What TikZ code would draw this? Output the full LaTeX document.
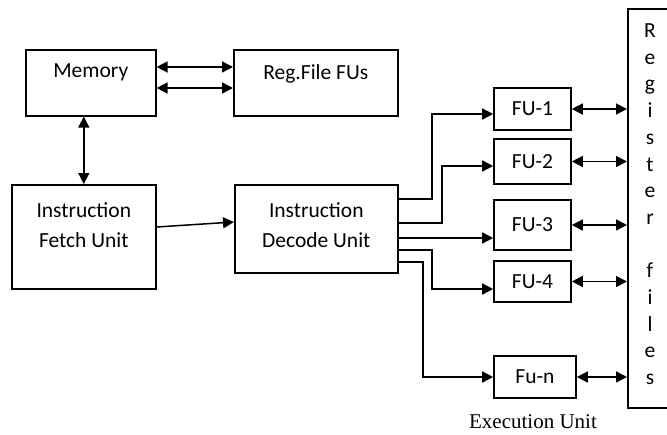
\documentclass[tikz,border=0pt]{standalone}
\usepackage{fontspec}
\setmainfont{Carlito}
\newfontfamily\timesfont{Liberation Serif}
\usetikzlibrary{arrows.meta}

\tikzset{
  blk/.style={draw, line width=1.6pt, rectangle, inner sep=0pt},
  intext/.style={anchor=north, align=center, inner sep=0pt, yshift=-#1},
  arr/.style={line width=1.5pt, -{Triangle[length=11pt,width=11pt]}},
  darr/.style={line width=1.5pt, {Triangle[length=11pt,width=11pt]}-{Triangle[length=11pt,width=11pt]}},
}

\begin{document}
\begin{tikzpicture}[x=1pt, y=-1pt, font=\fontsize{21.5}{30}\selectfont]
\clip (0,0) rectangle (667,434);
% upper row
\node[blk, anchor=north west, minimum width=130pt, minimum height=66pt,
  label={[intext=15pt]north:Memory}] (mem) at (25,49) {};
\node[blk, anchor=north west, minimum width=164pt, minimum height=66pt,
  label={[intext=15pt]north:Reg.File FUs}] (reg) at (233,49) {};
% fetch and decode
\node[blk, anchor=north west, minimum width=144pt, minimum height=104pt,
  label={[intext=18pt]north:Instruction\\Fetch Unit}] (ifu) at (11,184) {};
\node[blk, anchor=north west, minimum width=163pt, minimum height=88pt,
  label={[intext=18pt]north:Instruction\\Decode Unit}] (idu) at (234,184) {};
% functional units
\foreach \name/\xc/\yc/\w/\h/\txt in
{fu1/532.5/109/77/42/FU-1, fu2/532.5/161.5/77/45/FU-2, fu3/532.5/225/77/50/FU-3,
 fu4/532.5/281.5/77/41/FU-4, fun/535/377/82/42/Fu-n}
\node[blk, minimum width=\w pt, minimum height=\h pt] (\name) at (\xc,\yc) {\txt};
% register files
\node[blk, anchor=north west, minimum width=60pt, minimum height=399pt] (regf) at (627,8) {};
\foreach \ch/\k in {R/0,e/1,g/2,i/3,s/4,t/5,e/6,r/7,f/9,i/10,l/11,e/12,s/13}
\node[anchor=base, inner sep=0pt] (let\k) at (650,37.5+26.7*\k) {\ch};
\node[anchor=base, inner sep=0pt, font=\timesfont\fontsize{21}{25}\selectfont] (exu) at (533,428) {Execution Unit};

\draw[darr] (mem.east |- 0,67) -- (reg.west |- 0,67);
\draw[darr] (mem.east |- 0,88) -- (reg.west |- 0,88);
\draw[darr] (ifu.north |- mem.south) -- (ifu.north);
\draw[arr] (ifu.east |- 0,227) -- (idu.west |- 0,222);

\draw[arr] (idu.east |- 0,199) -| (432,114) -- (fu1.west |- 0,114);
\draw[arr] (idu.east |- 0,223) -| (442,166) -- (fu2.west |- 0,166);
\draw[arr] (idu.east |- 0,238) -- (fu3.west |- 0,238);
\draw[arr] (idu.east |- 0,250) -| (432,289) -- (fu4.west |- 0,289);
\draw[arr] (idu.east |- 0,262) -| (423,377) -- (fun.west |- 0,377);

\foreach \n in {fu1,fu2,fu3,fu4,fun}
\draw[darr] (\n.east) -- (regf.west |- \n.east);
\end{tikzpicture}
\end{document}
